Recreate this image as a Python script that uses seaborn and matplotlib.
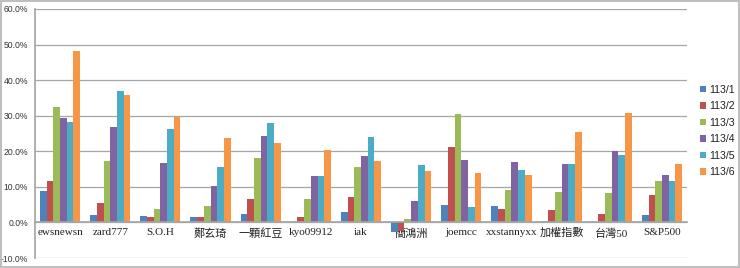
import matplotlib
matplotlib.use("Agg")
import matplotlib.pyplot as plt
import seaborn as sns
import pandas as pd
from matplotlib.ticker import FuncFormatter, FixedLocator
from matplotlib.patches import Rectangle

categories = ["ewsnewsn", "zard777", "S.O.H", "鄭玄琦", "一顆紅豆", "kyo09912", "iak",
              "簡鴻洲", "joemcc", "xxstannyxx", "加權指數", "台灣50", "S&P500"]
series_names = ["113/1", "113/2", "113/3", "113/4", "113/5", "113/6"]
s1 = [8.8, 2.0, 1.8, 1.6, 2.4, 0.0, 2.8, -2.8, 4.8, 4.5, 0.4, 0.2, 2.0]
s2 = [11.6, 5.5, 1.6, 1.6, 6.7, 1.5, 7.2, -2.4, 21.3, 3.8, 3.6, 2.4, 7.8]
s3 = [32.5, 17.3, 3.8, 4.7, 18.0, 6.5, 15.7, 1.1, 30.5, 9.2, 8.6, 8.2, 11.7]
s4 = [29.3, 26.7, 16.7, 10.3, 24.4, 13.0, 18.8, 6.1, 17.6, 17.1, 16.5, 20.1, 13.2]
s5 = [28.1, 37.0, 26.4, 15.5, 28.0, 13.0, 24.1, 16.1, 4.3, 14.8, 16.5, 19.0, 11.6]
s6 = [48.2, 35.7, 29.6, 23.7, 22.4, 20.4, 17.2, 14.4, 14.0, 13.2, 25.3, 30.9, 16.3]
y_ticks = [-10, 0, 10, 20, 30, 40, 50, 60]

colors = ["#4F81BD", "#C0504D", "#9BBB59", "#8064A2", "#4BACC6", "#F79646"]

rows = []
for name, vals in zip(series_names, [s1, s2, s3, s4, s5, s6]):
    for c, v in zip(categories, vals):
        rows.append({"cat": c, "series": name, "val": v})
df = pd.DataFrame(rows)

sns.set_theme(style="white")
plt.rcParams["font.family"] = ["Liberation Sans", "Noto Sans CJK TC"]

fig = plt.figure(figsize=(7.4, 2.68), dpi=100)
ax = fig.add_axes([35/740, 10/268, 652/740, 249/268])

sns.barplot(data=df, x="cat", y="val", hue="series", order=categories,
            hue_order=series_names, palette=colors, width=0.8, ax=ax,
            saturation=1, linewidth=0, legend=True)

ax.set_ylim(-10, 60)
ax.set_xlim(-0.5, len(categories) - 0.5)
ax.yaxis.set_major_locator(FixedLocator(y_ticks))
ax.yaxis.set_major_formatter(FuncFormatter(lambda v, p: f"{v:.1f}%"))
ax.grid(axis="y", color="#A6A6A6", linewidth=0.9)
ax.set_axisbelow(True)
ax.set_xlabel("")
ax.set_ylabel("")

for s in ["top", "right"]:
    ax.spines[s].set_visible(False)
ax.spines["left"].set_color("#A6A6A6")
ax.spines["bottom"].set_position(("data", 0))
ax.spines["bottom"].set_color("#A6A6A6")

ax.tick_params(axis="y", length=3, color="#A6A6A6", labelsize=6.2, labelcolor="#333333", pad=2)
ax.tick_params(axis="x", which="major", length=0, pad=4)
ax.set_xticks(range(len(categories)))
ax.set_xticklabels(categories, fontsize=8, color="#222222",
                   family=["Liberation Serif", "Noto Sans CJK TC"])
ax.set_xticks([i + 0.5 for i in range(-1, len(categories))], minor=True)
ax.tick_params(axis="x", which="minor", length=4, color="#A6A6A6", direction="out")

handles, labels = ax.get_legend_handles_labels()
leg = ax.legend(handles, labels, loc="center left", bbox_to_anchor=(1.008, 0.51),
                frameon=False, fontsize=7.6, handlelength=0.6, handleheight=0.6,
                labelspacing=0.62, handletextpad=0.35, borderpad=0.2)
for t in leg.get_texts():
    t.set_color("#222222")

fig.patches.append(Rectangle((0.002, 0.004), 0.996, 0.992, transform=fig.transFigure,
                             fill=False, edgecolor="#BFBFBF", linewidth=1.5))

fig.savefig("out.png", dpi=100)
